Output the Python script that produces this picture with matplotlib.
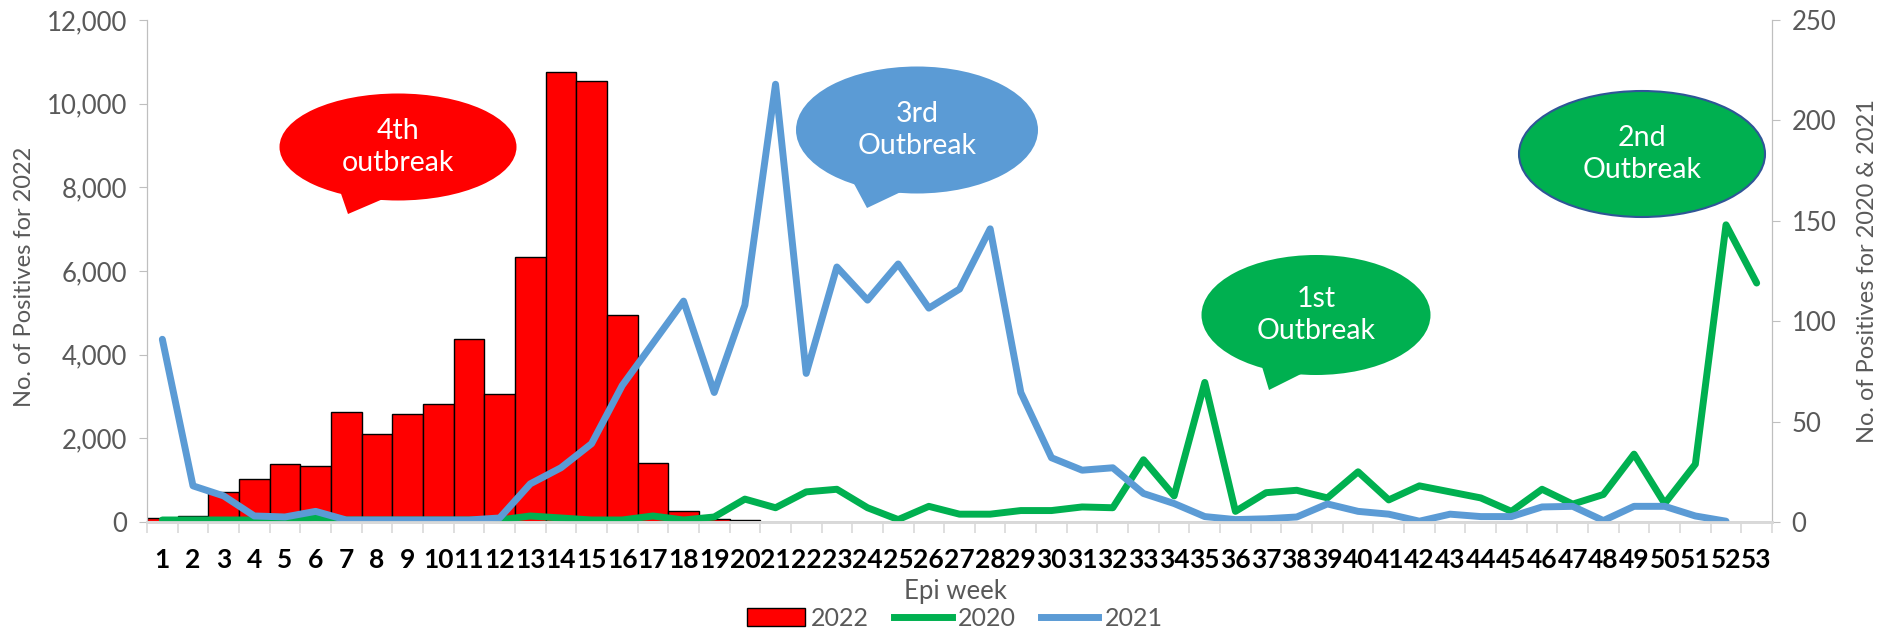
import numpy as np
import matplotlib
matplotlib.use('Agg')
import matplotlib.pyplot as plt
from matplotlib.patches import Ellipse, Polygon, Patch
from matplotlib.lines import Line2D

# Epi weeks and weekly positives
weeks = list(range(1, 54))
pos_2022 = [100, 140, 720, 1020, 1390, 1340, 2620, 2100, 2590, 2810,
            4380, 3050, 6340, 10760, 10550, 4950, 1420, 260, 80, 50] + [0] * 33
pos_2020 = [1, 1, 1, 1, 1, 2, 1, 1, 1, 1, 1, 1, 3, 2, 1, 1, 3, 1, 2.5, 11.4,
            7.1, 15, 16.3, 7.1, 1.2, 7.8, 3.9, 3.9, 5.7, 5.7, 7.5, 7.1, 31, 13,
            69.5, 5.3, 14.6, 15.8, 12, 25, 11, 18, 15, 12, 5.3, 16.3, 8.9,
            13.7, 33.8, 9.2, 28.8, 148, 119]
pos_2021 = [91, 18, 13, 3, 2.5, 5.3, 1, 1, 1, 1, 1, 2, 19, 27, 39, 68, 89,
            110, 64.5, 108, 218, 74, 127, 110.5, 128.5, 106.5, 116, 146, 64.5,
            32, 25.8, 27, 14.2, 9.2, 2.7, 1.2, 1.6, 2.5, 9, 5.3, 3.9, 0.4, 3.9,
            2.7, 2.7, 7.5, 7.8, 0.7, 7.8, 7.8, 3, 0.4]

RED = '#FF0000'
GREEN = '#00B050'
BLUE = '#5B9BD5'
GREY = '#595959'

plt.rcParams['font.family'] = ['Lato', 'DejaVu Sans']

W, H = 1900, 636
fig = plt.figure(figsize=(W / 100, H / 100), dpi=100)
ax = fig.add_axes([147 / W, 1 - 522 / H, (1772 - 147) / W, (522 - 20) / H])
ax2 = ax.twinx()

ax.bar(weeks, pos_2022, width=1.0, color=RED, edgecolor='black', linewidth=1.0, zorder=2)
ax2.plot(weeks, pos_2020, color=GREEN, lw=5, solid_capstyle='round', solid_joinstyle='round')
ax2.plot(weeks[:len(pos_2021)], pos_2021, color=BLUE, lw=5, solid_capstyle='round',
         solid_joinstyle='round')

ax.set_xlim(0.5, 53.5)
ax.set_ylim(0, 12000)
ax2.set_ylim(0, 250)
ax.set_yticks(np.arange(0, 12001, 2000))
ax.set_yticklabels([f'{v:,}' for v in range(0, 12001, 2000)])
ax2.set_yticks(np.arange(0, 251, 50))

ax.set_xticks(weeks)
ax.set_xticklabels([str(w) for w in weeks], fontweight='bold', fontsize=19, color='black')
ax.set_xticks(np.arange(0.5, 54, 1), minor=True)
ax.tick_params(axis='x', which='major', length=0, pad=19)
ax.tick_params(axis='x', which='minor', length=8, color='#d9d9d9', width=1.2)
ax.tick_params(axis='y', labelsize=18.5, length=6, color='#bfbfbf', pad=8)
ax2.tick_params(axis='y', labelsize=18.5, length=6, color='#bfbfbf', pad=8)
for lbl in ax.get_yticklabels() + ax2.get_yticklabels():
    lbl.set_color(GREY)

for a in (ax, ax2):
    a.spines['top'].set_visible(False)
    a.spines['left'].set_color('#bfbfbf')
    a.spines['right'].set_color('#bfbfbf')
    a.spines['bottom'].set_color('#d9d9d9')
    a.spines['bottom'].set_linewidth(2)

ax.set_ylabel('No. of Positives for 2022', fontsize=17, color=GREY)
ax.yaxis.set_label_coords(-(147 - 35) / (1772 - 147), (522 - 277) / 502)
ax2.set_ylabel('No. of Positives for 2020 & 2021', fontsize=17, color=GREY)
ax2.yaxis.set_label_coords((1857 - 147) / (1772 - 147), 0.5)
fig.text(955 / W, 1 - 592 / H, 'Epi week', ha='center', va='center', fontsize=18.5, color=GREY)

# speech bubbles (figure pixel coords)
def px(x, y):
    return (x / W, 1 - y / H)

def bubble(cx, cy, w, h, color, text, tail=None, edge=None):
    if tail is not None:
        fig.add_artist(Polygon([px(*p) for p in tail], closed=True, facecolor=color,
                               edgecolor='none', transform=fig.transFigure))
    fig.add_artist(Ellipse(px(cx, cy), w / W, h / H, facecolor=color,
                           edgecolor=edge if edge else 'none', lw=1.5,
                           transform=fig.transFigure))
    fig.text(cx / W, 1 - cy / H, text, ha='center', va='center', color='white',
             fontsize=20.5, linespacing=1.25)

bubble(398, 147, 237, 107, RED, '4th\noutbreak', tail=[(338, 185), (390, 196), (348, 214)])
bubble(917, 130, 242, 127, BLUE, '3rd\nOutbreak', tail=[(852, 180), (905, 190), (867, 208)])
bubble(1316, 315, 229, 120, GREEN, '1st\nOutbreak', tail=[(1260, 360), (1305, 372), (1269, 390)])
bubble(1642, 154, 246, 126, GREEN, '2nd\nOutbreak', edge='#2F5597')

handles = [Patch(facecolor=RED, edgecolor='black', label='2022'),
           Line2D([], [], color=GREEN, lw=5, label='2020'),
           Line2D([], [], color=BLUE, lw=5, label='2021')]
leg = fig.legend(handles=handles, loc='center', bbox_to_anchor=(955 / W, 1 - 618 / H),
                 ncol=3, frameon=False, fontsize=18, handlelength=2.3, handletextpad=0.25,
                 columnspacing=1.0, borderpad=0.1)
for t in leg.get_texts():
    t.set_color(GREY)

fig.savefig('out.png', dpi=100)
